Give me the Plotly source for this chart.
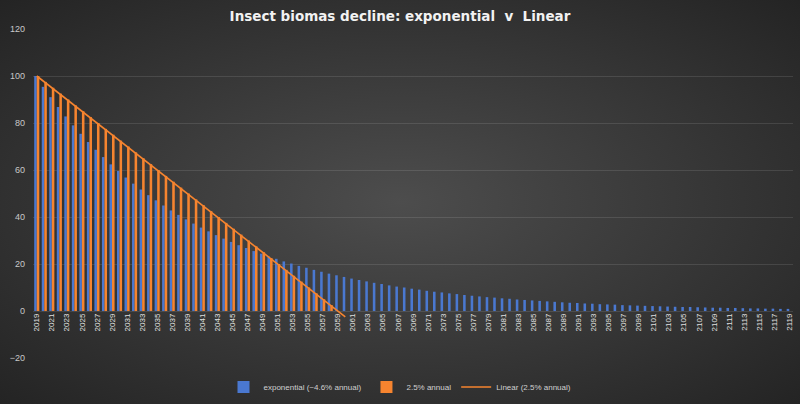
import base64
import plotly.graph_objects as go

years = list(range(2019, 2120))

exponential = [
    100.0, 95.4, 91.0, 86.8, 82.8, 79.0, 75.4, 71.9, 68.6, 65.5,
    62.4, 59.6, 56.8, 54.2, 51.7, 49.3, 47.1, 44.9, 42.8, 40.9,
    39.0, 37.2, 35.5, 33.9, 32.3, 30.8, 29.4, 28.0, 26.8, 25.5,
    24.4, 23.2, 22.2, 21.1, 20.2, 19.2, 18.4, 17.5, 16.7, 15.9,
    15.2, 14.5, 13.8, 13.2, 12.6, 12.0, 11.5, 10.9, 10.4, 10.0,
    9.5, 9.1, 8.6, 8.2, 7.9, 7.5, 7.2, 6.8, 6.5, 6.2,
    5.9, 5.7, 5.4, 5.2, 4.9, 4.7, 4.5, 4.3, 4.1, 3.9,
    3.7, 3.5, 3.4, 3.2, 3.1, 2.9, 2.8, 2.7, 2.5, 2.4,
    2.3, 2.2, 2.1, 2.0, 1.9, 1.8, 1.7, 1.7, 1.6, 1.5,
    1.4, 1.4, 1.3, 1.3, 1.2, 1.1, 1.1, 1.0, 1.0, 0.9,
    0.9,
]

annual_25 = [
    100, 97.5, 95, 92.5, 90, 87.5, 85, 82.5, 80, 77.5,
    75, 72.5, 70, 67.5, 65, 62.5, 60, 57.5, 55, 52.5,
    50, 47.5, 45, 42.5, 40, 37.5, 35, 32.5, 30, 27.5,
    25, 22.5, 20, 17.5, 15, 12.5, 10, 7.5, 5, 2.5,
    0,
]

linear = annual_25 + [-2.5]

tick_years = years[::2]
y_ticks = [-20, 0, 20, 40, 60, 80, 100, 120]

W, H = 800, 404
dom_x = [33 / W, 793 / W]
dom_y = [1 - 358 / H, 1 - 29 / H]
zero_pos = dom_y[0] + (dom_y[1] - dom_y[0]) * 20 / 140

svg = (
    '<svg xmlns="http://www.w3.org/2000/svg" width="800" height="404" '
    'preserveAspectRatio="none"><defs><radialGradient id="g" cx="50%" cy="50%" r="72%">'
    '<stop offset="0" stop-color="#4d4d4d"/><stop offset="1" stop-color="#232323"/>'
    '</radialGradient></defs><rect width="800" height="404" fill="url(#g)"/></svg>'
)
bg_src = "data:image/svg+xml;base64," + base64.b64encode(svg.encode()).decode()

fig = go.Figure()
fig.add_trace(go.Bar(
    x=years, y=exponential, name="exponential (~4.6% annual)",
    marker=dict(color="#4a78d0", line=dict(width=0)),
))
fig.add_trace(go.Bar(
    x=years[:len(annual_25)], y=annual_25, name="2.5% annual",
    marker=dict(color="#f6842f", line=dict(width=0)),
))
fig.add_trace(go.Scatter(
    x=years[:len(linear)], y=linear, name="Linear (2.5% annual)",
    mode="lines", line=dict(color="#f6842f", width=1.6),
))

fig.update_layout(
    width=W, height=H,
    margin=dict(l=0, r=0, t=0, b=0, autoexpand=False),
    paper_bgcolor="#333333",
    plot_bgcolor="rgba(0,0,0,0)",
    barmode="group", bargap=0.32, bargroupgap=0,
    title=dict(
        text="Insect biomas decline: exponential\u00a0 v\u00a0 Linear",
        x=0.5, xanchor="center", y=0.96, yanchor="middle", automargin=False,
        font=dict(family="DejaVu Sans", size=13.5, color="#f2f2f2", weight="bold"),
    ),
    legend=dict(
        orientation="h", x=0.5, xanchor="center", y=0.042, yanchor="middle",
        font=dict(family="Liberation Sans", size=8, color="#d0d0d0"),
        bgcolor="rgba(0,0,0,0)",
    ),
    xaxis=dict(
        domain=dom_x, range=[2018.5, 2119.5], automargin=False,
        anchor="free", position=zero_pos,
        tickmode="array", tickvals=tick_years, ticktext=[str(y) for y in tick_years],
        tickangle=-90, tickfont=dict(family="Liberation Sans", size=8, color="#e0e0e0"),
        showgrid=False, showline=False, zeroline=False, ticks="",
    ),
    yaxis=dict(
        domain=dom_y, range=[-20, 120], automargin=False,
        tickmode="array", tickvals=y_ticks,
        tickfont=dict(family="Liberation Sans", size=9, color="#c8c8c8"),
        showgrid=True, gridcolor="rgba(255,255,255,0.11)", gridwidth=1,
        zeroline=False, showline=False, ticks="", ticklabelstandoff=7,
    ),
    images=[dict(
        source=bg_src, xref="paper", yref="paper", x=0, y=1,
        sizex=1, sizey=1, sizing="stretch", xanchor="left", yanchor="top",
        layer="below",
    )],
)

fig.write_html(
    "out.html",
    config={"displayModeBar": False},
    post_script="document.body.style.margin='0';",
)
